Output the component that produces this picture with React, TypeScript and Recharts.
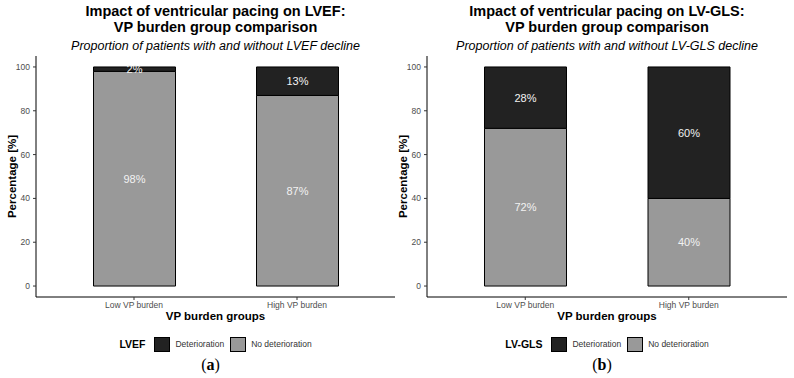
import React from 'react'
import { BarChart, Bar, XAxis, YAxis, Legend, LabelList } from 'recharts'

const groups = ['Low VP burden', 'High VP burden']
const lvefNoDeterioration = [98, 87]
const lvefDeterioration = [2, 13]
const glsNoDeterioration = [72, 40]
const glsDeterioration = [28, 60]
const yTicks = [0, 20, 40, 60, 80, 100]

const SANS = '"Liberation Sans", Arial, sans-serif'
const DARK = '#222222'
const GREY = '#999999'

const PLOT_TOP = 56
const AXIS_W = 36
const CHART_H = 378

function YTitle({ viewBox }: any) {
  const cx = viewBox.x + 12
  const cy = viewBox.y + viewBox.height / 2
  return (
    <text
      x={cx}
      y={cy}
      transform={`rotate(-90, ${cx}, ${cy})`}
      textAnchor="middle"
      dominantBaseline="central"
      fontFamily={SANS}
      fontWeight="bold"
      fontSize={11.5}
      fill="#000"
    >
      Percentage [%]
    </text>
  )
}

function XTitle({ viewBox }: any) {
  return (
    <text
      x={viewBox.x + viewBox.width / 2}
      y={viewBox.y + 23}
      textAnchor="middle"
      fontFamily={SANS}
      fontWeight="bold"
      fontSize={11.5}
      fill="#000"
    >
      VP burden groups
    </text>
  )
}

function PanelLegend({ name, tag }: { name: string; tag: string }) {
  const swatch = (c: string) => (
    <span style={{ display: 'inline-block', width: 14, height: 13, background: c, border: '1px solid #000', margin: '0 5px 0 6px' }} />
  )
  return (
    <div style={{ fontFamily: SANS, textAlign: 'center' }}>
      <div style={{ display: 'flex', justifyContent: 'center', alignItems: 'center', height: 16, marginTop: 6 }}>
        <span style={{ fontWeight: 'bold', fontSize: 10.5, marginRight: 3 }}>{name}</span>
        {swatch(DARK)}
        <span style={{ fontSize: 8.5, color: '#333' }}>Deterioration</span>
        {swatch(GREY)}
        <span style={{ fontSize: 8.5, color: '#333' }}>No deterioration</span>
      </div>
      <div style={{ fontFamily: '"Liberation Serif", "DejaVu Serif", serif', fontSize: 16, marginTop: 4, marginLeft: -10 }}>
        (<b>{tag}</b>)
      </div>
    </div>
  )
}

function Panel({ left, width, name, tag, noDet, det }: any) {
  const data = groups.map((g, i) => ({ group: g, noDet: noDet[i], det: det[i] }))
  const plotW = width - AXIS_W
  const center = AXIS_W + plotW / 2
  return (
    <div style={{ position: 'absolute', left, top: 0, width, height: CHART_H }}>
      <div
        style={{
          position: 'absolute', top: 3, left: center - 200, width: 400, textAlign: 'center',
          fontFamily: SANS, fontWeight: 'bold', fontSize: 14.5, lineHeight: '16px', color: '#000',
        }}
      >
        Impact of ventricular pacing on {name}:<br />VP burden group comparison
      </div>
      <div
        style={{
          position: 'absolute', top: 38, left: center - 200, width: 400, textAlign: 'center',
          fontFamily: SANS, fontStyle: 'italic', fontSize: 12.5, lineHeight: '16px', color: '#000',
        }}
      >
        Proportion of patients with and without {name} decline
      </div>
      <BarChart
        width={width}
        height={CHART_H}
        data={data}
        margin={{ top: PLOT_TOP, right: 0, bottom: 0, left: 0 }}
        barSize={82}
      >
        <XAxis
          dataKey="group"
          height={33}
          padding={{ left: 16.5, right: 16.5 }}
          axisLine={{ stroke: '#000', strokeWidth: 1 }}
          tickLine={{ stroke: '#333' }}
          tickSize={3}
          tickMargin={2}
          tick={{ fontSize: 8.5, fill: '#4d4d4d', fontFamily: SANS }}
          label={<XTitle />}
        />
        <YAxis
          width={AXIS_W}
          domain={[-5, 105]}
          ticks={yTicks}
          allowDataOverflow
          axisLine={{ stroke: '#000', strokeWidth: 1 }}
          tickLine={{ stroke: '#333' }}
          tickSize={3}
          tickMargin={3}
          tick={{ fontSize: 8.5, fill: '#4d4d4d', fontFamily: SANS }}
          label={<YTitle />}
        />
        <Legend
          verticalAlign="bottom"
          height={48}
          wrapperStyle={{ left: AXIS_W, width: plotW }}
          content={() => <PanelLegend name={name} tag={tag} />}
        />
        <Bar dataKey="noDet" stackId="a" fill={GREY} stroke="#000" strokeWidth={1} isAnimationActive={false}>
          <LabelList dataKey="noDet" position="center" formatter={(v: any) => `${v}%`} fill="#f2f2f2" fontSize={11} fontFamily={SANS} />
        </Bar>
        <Bar dataKey="det" stackId="a" fill={DARK} stroke="#000" strokeWidth={1} isAnimationActive={false}>
          <LabelList dataKey="det" position="center" formatter={(v: any) => `${v}%`} fill="#f2f2f2" fontSize={11} fontFamily={SANS} />
        </Bar>
      </BarChart>
    </div>
  )
}

export default function App() {
  return (
    <div style={{ position: 'absolute', left: 0, top: 0, width: 794, height: 378, background: '#fff' }}>
      <Panel left={0} width={395} name="LVEF" tag="a" noDet={lvefNoDeterioration} det={lvefDeterioration} />
      <Panel left={391} width={396} name="LV-GLS" tag="b" noDet={glsNoDeterioration} det={glsDeterioration} />
    </div>
  )
}
